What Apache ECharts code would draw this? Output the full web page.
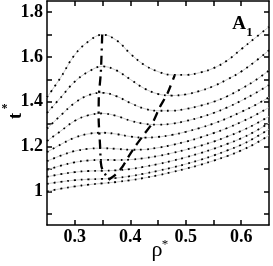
<!DOCTYPE html>
<html><head><meta charset="utf-8">
<script src="https://cdn.jsdelivr.net/npm/echarts@6/dist/echarts.min.js"></script>
<style>html,body{margin:0;padding:0;background:#fff}#c{width:273px;height:266px}</style>
</head><body><div id="c"></div>
<script>
const rho = [0.25,0.275,0.30,0.325,0.35,0.375,0.40,0.425,0.45,0.475,0.50,0.525,0.55,0.575,0.60,0.625,0.65];
const c1 = [1.42,1.51,1.61,1.67,1.70,1.675,1.615,1.565,1.535,1.52,1.52,1.53,1.55,1.585,1.635,1.685,1.735];
const c2 = [1.35,1.42,1.49,1.535,1.558,1.54,1.50,1.46,1.435,1.428,1.433,1.448,1.47,1.50,1.535,1.58,1.63];
const c3 = [1.28,1.34,1.395,1.43,1.44,1.425,1.395,1.37,1.36,1.36,1.368,1.382,1.40,1.425,1.458,1.495,1.54];
const c4 = [1.225,1.27,1.315,1.34,1.348,1.337,1.316,1.302,1.298,1.302,1.314,1.33,1.35,1.375,1.405,1.438,1.475];
const c5 = [1.175,1.21,1.24,1.257,1.262,1.256,1.245,1.24,1.243,1.252,1.266,1.283,1.303,1.327,1.355,1.385,1.42];
const c6 = [1.135,1.16,1.18,1.19,1.193,1.19,1.186,1.187,1.195,1.207,1.222,1.24,1.26,1.283,1.31,1.34,1.375];
const c7 = [1.096,1.115,1.13,1.138,1.141,1.14,1.142,1.148,1.158,1.171,1.186,1.203,1.222,1.245,1.27,1.30,1.335];
const c8 = [1.065,1.077,1.086,1.091,1.092,1.094,1.10,1.11,1.122,1.136,1.152,1.17,1.19,1.212,1.237,1.268,1.305];
const c9 = [1.034,1.043,1.05,1.054,1.056,1.06,1.068,1.079,1.092,1.106,1.122,1.14,1.16,1.183,1.208,1.24,1.278];
const c10 = [1.0,1.012,1.022,1.03,1.036,1.042,1.05,1.06,1.072,1.086,1.101,1.118,1.137,1.158,1.183,1.213,1.25];
const curves = [c1,c2,c3,c4,c5,c6,c7,c8,c9,c10];

const maxRho = [0.3495,0.347,0.3435,0.343,0.3455,0.347,0.3495,0.361];
const maxT   = [1.70,1.53,1.43,1.33,1.21,1.13,1.10,1.052];
const minRho = [0.361,0.373,0.386,0.398,0.41,0.425,0.44,0.453,0.467,0.48];
const minT   = [1.052,1.074,1.11,1.16,1.205,1.255,1.305,1.375,1.437,1.518];

const xTicks = [0.3,0.35,0.4,0.45,0.5,0.55,0.6];
const xLabels = [0.3,0.4,0.5,0.6];
const yTicks = [0.9,1.0,1.1,1.2,1.3,1.4,1.5,1.6,1.7,1.8];
const yLabels = [1.0,1.2,1.4,1.6,1.8];

const serif = 'Liberation Serif';
const pair = (xs, ys) => xs.map((x, i) => [x, ys[i]]);

const series = [];
curves.forEach(c => {
  series.push({type:'line', data: pair(rho, c), smooth: 0.4, showSymbol:false, silent:true,
    lineStyle:{color:'#c8c8c8', width:1}, z:2});
  series.push({type:'line', data: pair(rho, c), smooth: 0.4, showSymbol:false, silent:true,
    lineStyle:{color:'#000', width:1.8, type:[1.8,5]}, z:3});
});
series.push({type:'line', data: pair(maxRho, maxT), smooth:0.2, showSymbol:false, silent:true,
  lineStyle:{color:'#000', width:2.3, type:[9,5,2,5]}, z:4});
series.push({type:'line', data: pair(minRho, minT), smooth:0.2, showSymbol:false, silent:true,
  lineStyle:{color:'#000', width:2.3, type:[9,6]}, z:4});

const axisLineStyle = {show:true, lineStyle:{color:'#000', width:1.5}};
const labStyle = {fontFamily: serif, fontWeight:'bold', fontSize:18, color:'#000'};

const chart = echarts.init(document.getElementById('c'), null, {renderer:'canvas'});
chart.setOption({
  animation:false,
  backgroundColor:'#fff',
  grid:{left:47, right:4, top:1, bottom:41, containLabel:false},
  xAxis:[
    {type:'value', min:0.25, max:0.65, interval:0.05, position:'bottom',
     axisLine:axisLineStyle, splitLine:{show:false},
     axisTick:{inside:true, length:5, lineStyle:{color:'#000', width:1.5}, customValues:xTicks},
     axisLabel:Object.assign({margin:3, customValues:xLabels, formatter:v=>v.toFixed(1)}, labStyle)},
    {type:'value', min:0.25, max:0.65, interval:0.05, position:'top',
     axisLine:axisLineStyle, splitLine:{show:false},
     axisTick:{inside:true, length:5, lineStyle:{color:'#000', width:1.5}, customValues:xTicks},
     axisLabel:{show:false}}
  ],
  yAxis:[
    {type:'value', min:0.85, max:1.85, interval:0.05, position:'left',
     axisLine:axisLineStyle, splitLine:{show:false},
     axisTick:{inside:true, length:5, lineStyle:{color:'#000', width:1.5}, customValues:yTicks},
     axisLabel:Object.assign({margin:4, customValues:yLabels, formatter:v=>(Math.abs(v-1)<1e-9?'1':v.toFixed(1))}, labStyle)},
    {type:'value', min:0.85, max:1.85, interval:0.05, position:'right',
     axisLine:axisLineStyle, splitLine:{show:false},
     axisTick:{inside:true, length:5, lineStyle:{color:'#000', width:1.5}, customValues:yTicks},
     axisLabel:{show:false}}
  ],
  graphic:[
    {type:'text', x:16, y:116, rotation:Math.PI/2, silent:true,
     style:{text:'t', fontFamily:serif, fontWeight:'bold', fontSize:18, fill:'#000', align:'center', verticalAlign:'middle'}},
    {type:'text', x:4.5, y:108.5, silent:true,
     style:{text:'*', fontFamily:serif, fontWeight:'bold', fontSize:12, fill:'#000', align:'center', verticalAlign:'middle'}},
    {type:'text', x:157, y:250, silent:true,
     style:{text:'ρ', fontFamily:serif, fontSize:22, fill:'#000', align:'center', verticalAlign:'middle'}},
    {type:'text', x:165, y:245, silent:true,
     style:{text:'*', fontFamily:serif, fontSize:13, fill:'#000', align:'center', verticalAlign:'middle'}},
    {type:'text', x:239, y:24, silent:true,
     style:{text:'A', fontFamily:serif, fontWeight:'bold', fontSize:19, fill:'#000', align:'center', verticalAlign:'middle'}},
    {type:'text', x:249.5, y:33, silent:true,
     style:{text:'1', fontFamily:serif, fontWeight:'bold', fontSize:13, fill:'#000', align:'center', verticalAlign:'middle'}}
  ],
  series: series.map((s)=>Object.assign({xAxisIndex:0, yAxisIndex:0}, s))
});
</script>
</body></html>
